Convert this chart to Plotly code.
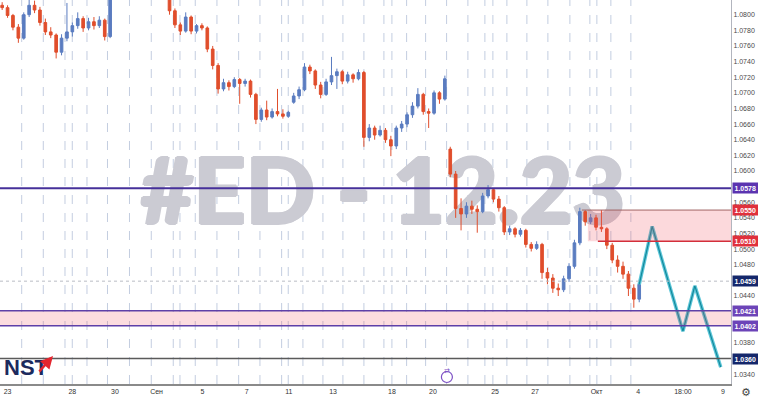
import plotly.graph_objects as go

# ---------------- data (4h-style candles) ----------------
opens = [1.0812,1.0809,1.0799,1.0784,1.0770,1.0800,1.0812,1.0806,1.0790,1.0778,
         1.0774,1.0752,1.0770,1.0778,1.0786,1.0795,1.0783,1.0791,1.0786,1.0793,
         1.0772,1.0825,1.0842,1.0856,1.0868,1.0876,1.0880,1.0870,1.0862,1.0854,
         1.0845,1.0832,1.0805,1.0787,1.0779,1.0797,1.0779,1.0786,1.0783,1.0756,
         1.0735,1.0705,1.0713,1.0708,1.0717,1.0712,1.0715,1.0698,1.0666,1.0678,
         1.0669,1.0676,1.0673,1.0670,1.0688,1.0696,1.0704,1.0733,1.0728,1.0710,
         1.0698,1.0714,1.0722,1.0727,1.0715,1.0723,1.0718,1.0726,1.0643,1.0655,
         1.0646,1.0652,1.0640,1.0632,1.0655,1.0660,1.0672,1.0683,1.0698,1.0676,
         1.0674,1.0700,1.0692,1.0628,1.0596,1.0552,1.0545,1.0555,1.0551,1.0548,
         1.0568,1.0576,1.0564,1.0553,1.0522,1.0526,1.0519,1.0524,1.0506,1.0501,
         1.0506,1.0470,1.0463,1.0450,1.0448,1.0462,1.0478,1.0508,1.0548,1.0535,
         1.0540,1.0528,1.0526,1.0505,1.0486,1.0478,1.0468,1.0450,1.0436]
highs = [1.0816,1.0812,1.0801,1.0788,1.0803,1.0819,1.0818,1.0810,1.0795,1.0784,
         1.0776,1.0775,1.0815,1.0790,1.0803,1.0798,1.0796,1.0797,1.0798,1.0795,
         1.0830,1.0845,1.0860,1.0872,1.0882,1.0888,1.0884,1.0874,1.0866,1.0858,
         1.0848,1.0835,1.0808,1.0790,1.0803,1.0799,1.0788,1.0789,1.0785,1.0760,
         1.0738,1.0718,1.0716,1.0720,1.0719,1.0718,1.0717,1.0700,1.0681,1.0690,
         1.0680,1.0705,1.0679,1.0677,1.0700,1.0708,1.0738,1.0736,1.0730,1.0714,
         1.0718,1.0746,1.0731,1.0729,1.0727,1.0725,1.0730,1.0728,1.0660,1.0658,
         1.0658,1.0655,1.0645,1.0658,1.0664,1.0675,1.0688,1.0706,1.0700,1.0680,
         1.0703,1.0702,1.0722,1.0631,1.0600,1.0565,1.0560,1.0562,1.0556,1.0572,
         1.0582,1.0578,1.0568,1.0555,1.0530,1.0528,1.0527,1.0526,1.0509,1.0510,
         1.0508,1.0476,1.0468,1.0456,1.0466,1.0482,1.0512,1.0553,1.0550,1.0545,
         1.0544,1.0550,1.0528,1.0508,1.0492,1.0484,1.0472,1.0455,1.0460]
lows  = [1.0806,1.0796,1.0780,1.0764,1.0768,1.0797,1.0802,1.0786,1.0774,1.0770,
         1.0744,1.0748,1.0766,1.0772,1.0782,1.0778,1.0780,1.0781,1.0783,1.0767,
         1.0770,1.0823,1.0838,1.0850,1.0862,1.0870,1.0866,1.0858,1.0850,1.0840,
         1.0826,1.0800,1.0783,1.0774,1.0777,1.0775,1.0776,1.0780,1.0752,1.0730,
         1.0699,1.0702,1.0703,1.0706,1.0686,1.0708,1.0694,1.0660,1.0663,1.0665,
         1.0667,1.0670,1.0667,1.0668,1.0686,1.0692,1.0702,1.0724,1.0705,1.0693,
         1.0696,1.0710,1.0705,1.0711,1.0712,1.0713,1.0716,1.0631,1.0638,1.0640,
         1.0644,1.0636,1.0619,1.0628,1.0650,1.0656,1.0668,1.0680,1.0672,1.0655,
         1.0672,1.0686,1.0690,1.0592,1.0540,1.0524,1.0540,1.0545,1.0521,1.0546,
         1.0565,1.0560,1.0548,1.0518,1.0518,1.0515,1.0516,1.0502,1.0497,1.0499,
         1.0462,1.0455,1.0444,1.0440,1.0445,1.0458,1.0475,1.0505,1.0530,1.0532,
         1.0524,1.0522,1.0500,1.0482,1.0470,1.0462,1.0440,1.0425,1.0432]
closes = [1.0809,1.0799,1.0784,1.0770,1.0800,1.0812,1.0806,1.0790,1.0778,1.0774,
          1.0752,1.0770,1.0778,1.0786,1.0795,1.0783,1.0791,1.0786,1.0793,1.0772,
          1.0825,1.0842,1.0856,1.0868,1.0876,1.0880,1.0870,1.0862,1.0854,1.0845,
          1.0832,1.0805,1.0787,1.0779,1.0797,1.0779,1.0786,1.0783,1.0756,1.0735,
          1.0705,1.0713,1.0708,1.0717,1.0712,1.0715,1.0698,1.0666,1.0678,1.0669,
          1.0676,1.0673,1.0670,1.0675,1.0696,1.0704,1.0733,1.0728,1.0710,1.0698,
          1.0714,1.0722,1.0727,1.0715,1.0723,1.0718,1.0726,1.0643,1.0655,1.0646,
          1.0652,1.0640,1.0632,1.0655,1.0660,1.0672,1.0683,1.0698,1.0676,1.0674,
          1.0700,1.0692,1.0718,1.0596,1.0552,1.0545,1.0555,1.0551,1.0548,1.0568,
          1.0576,1.0564,1.0553,1.0522,1.0526,1.0519,1.0524,1.0506,1.0501,1.0506,
          1.0470,1.0463,1.0450,1.0448,1.0462,1.0478,1.0508,1.0548,1.0535,1.0540,
          1.0528,1.0526,1.0505,1.0486,1.0478,1.0468,1.0450,1.0436,1.0455]
bar_index = list(range(len(closes)))

# projected path (pivot points)
proj_x = [118, 120.4, 126.1, 128.3, 133.1]
proj_y = [1.0455, 1.0529, 1.0395, 1.0453, 1.0349]

# x-axis labels
tick_text = ["23", "28", "30", "Сен", "5", "7", "11", "13", "18", "20", "25", "27", "Окт", "4", "18:00", "9"]
tick_pos = [1.0, 13.0, 20.9, 28.6, 37.1, 45.3, 53.1, 61.3, 72.2, 79.8, 91.3, 98.7, 110.1, 117.8, 126.1, 133.5]

# y-axis ticks shown
price_ticks = [1.0340, 1.0380, 1.0440, 1.0480, 1.0500, 1.0520, 1.0540, 1.0560, 1.0600,
               1.0620, 1.0640, 1.0660, 1.0680, 1.0700, 1.0720, 1.0740, 1.0760, 1.0780, 1.0800]

# levels
lvl_purple = 1.0578
zone_top, zone_bot = 1.0550, 1.0510
lvl_dotted = 1.0459
band_top, band_bot = 1.0421, 1.0402
lvl_target = 1.0360

watermark = "#ED - 12.23"

# ---------------- figure ----------------
PX = 5.4          # pixels per bar
X0 = -0.4
X1 = 135.0
Y0, Y1 = 1.03274, 1.08188

def px2i(p):
    return p / PX + X0

fig = go.Figure()

wm_col = "#cbcbd3"
# watermark on the base axes (drawn beneath the overlay axes holding the candles)
fig.add_trace(go.Scatter(
    x=[px2i(383)], y=[1.0561], mode="text", text=[watermark],
    textfont=dict(family="Lato", size=91, color=wm_col, weight=900,
                  shadow=f"1.5px 0 0 {wm_col}, -1.5px 0 0 {wm_col}, 0 1px 0 {wm_col}, 0 -1px 0 {wm_col}"),
    hoverinfo="skip", showlegend=False, xaxis="x", yaxis="y"))

fig.add_trace(go.Candlestick(
    x=bar_index, open=opens, high=highs, low=lows, close=closes,
    increasing=dict(line=dict(color="#5a7cc0", width=1), fillcolor="#5a7cc0"),
    decreasing=dict(line=dict(color="#e04e2c", width=1), fillcolor="#e04e2c"),
    whiskerwidth=0, showlegend=False, xaxis="x2", yaxis="y2"))

fig.add_trace(go.Scatter(x=proj_x, y=proj_y, mode="lines", xaxis="x2", yaxis="y2",
                         line=dict(color="#5cc6d8", width=3.5), hoverinfo="skip", showlegend=False))
fig.add_trace(go.Scatter(x=proj_x, y=proj_y, mode="lines", xaxis="x2", yaxis="y2",
                         line=dict(color="#13899c", width=1.2), hoverinfo="skip", showlegend=False))

shapes = []
# vertical dashed grid
grid_px = [21.7, 43.3, 65, 72.3, 87, 107.5, 129.5, 151.3, 173.3, 180, 195.3, 217, 238.7, 260,
           281.7, 288.3, 303, 323, 343, 364, 384, 392, 406.7, 425.7, 446.7, 468, 485, 493, 507,
           527, 548, 570, 590, 597, 611, 631]
for g in grid_px:
    shapes.append(dict(type="line", xref="x", yref="paper", x0=px2i(g), x1=px2i(g), y0=0, y1=1,
                       line=dict(color="#c3cde0", width=1, dash="dash"), layer="below"))

# zones
shapes.append(dict(type="rect", xref="x", yref="y", x0=px2i(588), x1=X1, y0=zone_bot, y1=zone_top,
                   fillcolor="rgba(242,80,95,0.22)", line=dict(width=0), layer="above"))
shapes.append(dict(type="line", xref="x", yref="y", x0=px2i(582), x1=X1, y0=zone_top, y1=zone_top,
                   line=dict(color="#a06464", width=1), layer="above"))
shapes.append(dict(type="line", xref="x", yref="y", x0=px2i(598), x1=X1, y0=zone_bot, y1=zone_bot,
                   line=dict(color="#d32f3a", width=1.5), layer="above"))
shapes.append(dict(type="rect", xref="paper", yref="y", x0=0, x1=1, y0=band_bot, y1=band_top,
                   fillcolor="rgba(242,80,95,0.2)", line=dict(width=0), layer="above"))
for lv in (band_top, band_bot):
    shapes.append(dict(type="line", xref="paper", yref="y", x0=0, x1=1, y0=lv, y1=lv,
                       line=dict(color="#5e40a8", width=1.5), layer="above"))
shapes.append(dict(type="line", xref="paper", yref="y", x0=0, x1=1, y0=lvl_purple, y1=lvl_purple,
                   line=dict(color="#46309a", width=2), layer="above"))
shapes.append(dict(type="line", xref="paper", yref="y", x0=0, x1=1, y0=lvl_dotted, y1=lvl_dotted,
                   line=dict(color="#b9bcc4", width=1, dash="dot"), layer="above"))
shapes.append(dict(type="line", xref="paper", yref="y", x0=0, x1=1, y0=lvl_target, y1=lvl_target,
                   line=dict(color="#5a5a5a", width=1.5), layer="above"))
# small session icon
shapes.append(dict(type="circle", xref="x", yref="paper", xsizemode="pixel", ysizemode="pixel",
                   xanchor=px2i(447), yanchor=(384 - 377) / 384, x0=-5.5, x1=5.5, y0=-5.5, y1=5.5,
                   line=dict(color="#7b4fc4", width=1.2), fillcolor="white", layer="above"))

annotations = []
def price_box(val, color):
    annotations.append(dict(xref="paper", yref="y", x=1, y=val, xanchor="left", yanchor="middle",
                            xshift=1, text=f"<b>{val:.4f}</b>", showarrow=False,
                            font=dict(family="Liberation Sans", size=7, color="white"),
                            bgcolor=color, borderpad=1.5))
price_box(lvl_purple, "#5b34b0")
price_box(zone_top, "#e0303c")
price_box(zone_bot, "#e0303c")
price_box(lvl_dotted, "#14276b")
price_box(band_top, "#6c44b8")
price_box(band_bot, "#6c44b8")
price_box(lvl_target, "#14276b")

annotations.append(dict(xref="x", yref="paper", x=px2i(447), y=(384 - 377) / 384, text="⇄",
                        showarrow=False, font=dict(family="DejaVu Sans", size=7, color="#7b4fc4")))
# logo
annotations.append(dict(xref="paper", yref="paper", x=2 / 731, y=(384 - 367) / 384, xanchor="left",
                        yanchor="middle", text="<b>NST</b>", showarrow=False,
                        font=dict(family="Liberation Sans", size=22, color="#1c2a5e")))
annotations.append(dict(xref="paper", yref="paper", x=53 / 731, y=(384 - 356) / 384,
                        ax=-15, ay=17, showarrow=True, arrowhead=2, arrowsize=1, arrowwidth=2.5,
                        arrowcolor="#e3262f", text=""))
# gear
annotations.append(dict(xref="paper", yref="paper", x=1, y=0, xanchor="left", yanchor="top",
                        xshift=8, yshift=0, text="⚙", showarrow=False,
                        font=dict(family="DejaVu Sans", size=11, color="#444")))

fig.update_layout(
    width=758, height=398, margin=dict(l=0, r=27, t=0, b=14),
    paper_bgcolor="white", plot_bgcolor="white", showlegend=False,
    shapes=shapes, annotations=annotations,
    xaxis=dict(range=[X0, X1], rangeslider=dict(visible=False), showgrid=False, zeroline=False,
               tickmode="array", tickvals=tick_pos, ticktext=tick_text, ticks="",
               tickfont=dict(family="Liberation Sans", size=7, color="#333"),
               showline=True, linecolor="#8a8a8a", linewidth=1.5),
    yaxis=dict(range=[Y0, Y1], side="right", showgrid=False, zeroline=False,
               tickmode="array", tickvals=price_ticks, tickformat=".4f", ticks="",
               tickfont=dict(family="Liberation Sans", size=7, color="#4a4a4a"),
               showline=True, linecolor="#b2b5be", linewidth=1),
    xaxis2=dict(overlaying="x", matches="x", visible=False, rangeslider=dict(visible=False),
                showgrid=False, zeroline=False),
    yaxis2=dict(overlaying="y", matches="y", side="right", visible=False,
                showgrid=False, zeroline=False),
)

fig.write_html("out.html")
